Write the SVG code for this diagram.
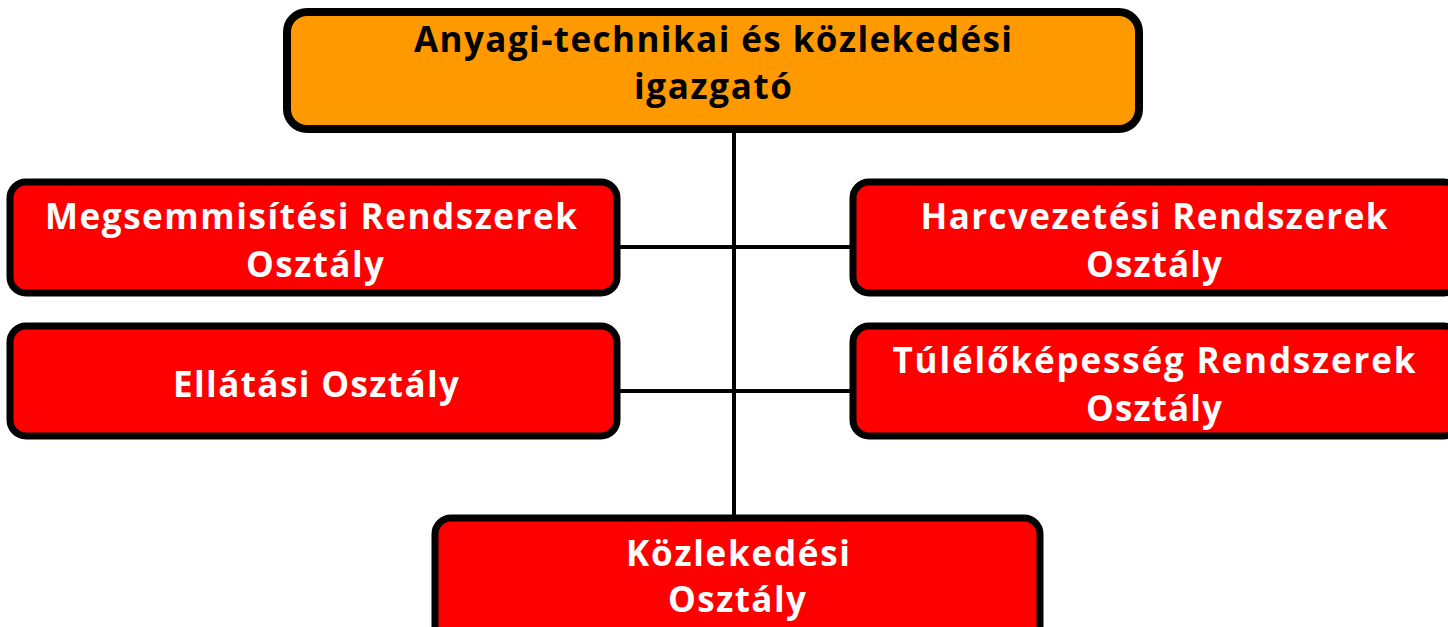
<svg xmlns="http://www.w3.org/2000/svg" width="1448" height="627" viewBox="0 0 1448 627">
<style>
.box{stroke:#000;stroke-width:7}
.top{fill:#FF9900}
.red{fill:#FF0000}
.t{font-family:"Open Sans","Liberation Sans",sans-serif;font-weight:bold;font-size:35px;text-anchor:middle}
.dk{fill:#000}
.wh{fill:#FFF}
.conn{stroke:#000;stroke-width:4;fill:none}
</style>
<rect width="1448" height="627" fill="#FFF"/>
<g id="connectors">
<line class="conn" x1="734" y1="129" x2="734" y2="518"/>
<line class="conn" x1="617" y1="247" x2="853" y2="247"/>
<line class="conn" x1="617" y1="391" x2="853" y2="391"/>
</g>
<g id="director">
<rect class="box top" x="287" y="12" width="852" height="117" rx="20" style="stroke-width:8"/>
<text class="t dk" x="713" y="52" textLength="598" lengthAdjust="spacing">Anyagi-technikai és közlekedési</text>
<text class="t dk" x="713" y="99" textLength="158" lengthAdjust="spacing">igazgató</text>
</g>
<g id="megsemmisitesi">
<rect class="box red" x="10" y="182" width="607" height="111" rx="16"/>
<text class="t wh" x="311" y="229" textLength="532" lengthAdjust="spacing">Megsemmisítési Rendszerek</text>
<text class="t wh" x="315" y="277" textLength="138" lengthAdjust="spacing">Osztály</text>
</g>
<g id="ellatasi">
<rect class="box red" x="10" y="326" width="607" height="110" rx="16"/>
<text class="t wh" x="316" y="397" textLength="286" lengthAdjust="spacing">Ellátási Osztály</text>
</g>
<g id="harcvezetesi">
<rect class="box red" x="853" y="182" width="607" height="111" rx="16"/>
<text class="t wh" x="1154" y="229" textLength="467" lengthAdjust="spacing">Harcvezetési Rendszerek</text>
<text class="t wh" x="1154" y="277" textLength="136" lengthAdjust="spacing">Osztály</text>
</g>
<g id="tulelokepesseg">
<rect class="box red" x="853" y="326" width="607" height="110" rx="16"/>
<text class="t wh" x="1154" y="373" textLength="523" lengthAdjust="spacing">Túlélőképesség Rendszerek</text>
<text class="t wh" x="1154" y="421" textLength="136" lengthAdjust="spacing">Osztály</text>
</g>
<g id="kozlekedesi">
<rect class="box red" x="435" y="518" width="605" height="125" rx="16"/>
<text class="t wh" x="738" y="566" textLength="224" lengthAdjust="spacing">Közlekedési</text>
<text class="t wh" x="737" y="612" textLength="138" lengthAdjust="spacing">Osztály</text>
</g>
</svg>
